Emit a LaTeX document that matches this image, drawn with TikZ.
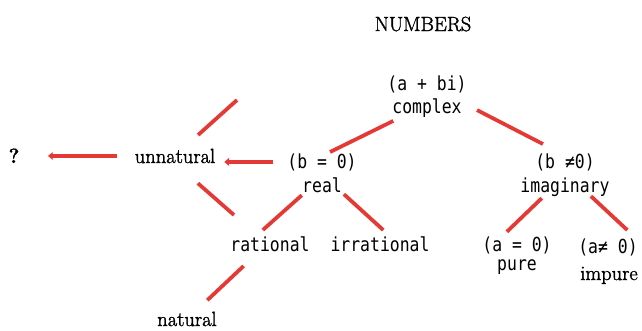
\documentclass[tikz,border=0pt]{standalone}
\usepackage{fontspec}
\usetikzlibrary{arrows.meta}
\newfontfamily\pixfont[FakeStretch=0.85]{DejaVu Sans Mono}
\newfontfamily\oldfont[FakeBold=1.6]{Latin Modern Roman}
\definecolor{numred}{HTML}{E53935}

\begin{document}
\begin{tikzpicture}[
  x=0.03cm, y=-0.03cm,
  mono/.style={anchor=base, inner sep=0pt, outer sep=0pt,
    font=\pixfont\fontsize{16.5}{18}\selectfont},
  roman/.style={anchor=base, inner sep=0pt, outer sep=0pt,
    font=\oldfont\fontsize{17.5}{20}\selectfont},
  link/.style={draw=numred, line width=3.2pt},
  tip/.style={-{Triangle[length=4pt, width=6.5pt]}}
]
  \useasboundingbox (0,0) rectangle (642,330);

  \node[roman] (title) at (423,31) {NUMBERS};

  \node[mono] (cplxeq) at (427,90) {(a + bi)};
  \node[mono] (cplx) at (427,113) {complex};

  \node[mono] (realeq) at (322,168) {(b = 0)};
  \node[mono] (real) at (322,192) {real};
  \node[mono] (imageq) at (565,168) {(b ≠0)};
  \node[mono] (imag) at (565,192) {imaginary};

  \node[roman] (unnat) at (175,163) {unnatural};
  \node[roman] (quest) at (14,163) {\bfseries ?};

  \node[mono] (rat) at (270,251) {rational};
  \node[mono] (irrat) at (380,251) {irrational};
  \node[roman] (nat) at (187,326) {natural};

  \node[mono] (pureeq) at (517,251) {(a = 0)};
  \node[mono] (pure) at (517,270) {pure};
  \node[mono] (impeq) at (608,253) {(a≠ 0)};
  \node[roman] (imp) at (609,280) {impure};

  \coordinate (unnatup) at (237,100);
  \coordinate (unnatdown) at (234,215);

  % complex splits
  \draw[link, shorten <=7.5pt, shorten >=2.5pt] (cplx.200) -- (realeq.58);
  \draw[link, shorten <=14.8pt, shorten >=17.3pt] (cplx.9) -- (imageq.115);

  % unnatural branch
  \draw[link, tip, shorten <=15.4pt, shorten >=24.4pt] (unnat.west) -- (unnat.west -| quest.east);
  \draw[link, tip, shorten <=12.3pt, shorten >=7.8pt] (realeq.west) -- (realeq.west -| unnat.east);
  \draw[link, shorten <=17.6pt] (unnat.43) -- (unnatup);
  \draw[link, shorten <=26pt] (unnat.south) -- (unnatdown);

  % real and imaginary
  \draw[link, shorten <=3.8pt, shorten >=8pt] (real.204) -- (rat.152);
  \draw[link, shorten <=2.5pt, shorten >=7.8pt] (real.south east) -- (irrat.37);
  \draw[link, shorten <=18.3pt, shorten >=14.4pt] (rat.215) -- (nat.42);
  \draw[link, shorten <=2.5pt, shorten >=5.7pt] (imag.204) -- (pureeq.150);
  \draw[link, shorten >=10.3pt] (imag.340) -- (impeq.17);

\end{tikzpicture}
\end{document}
